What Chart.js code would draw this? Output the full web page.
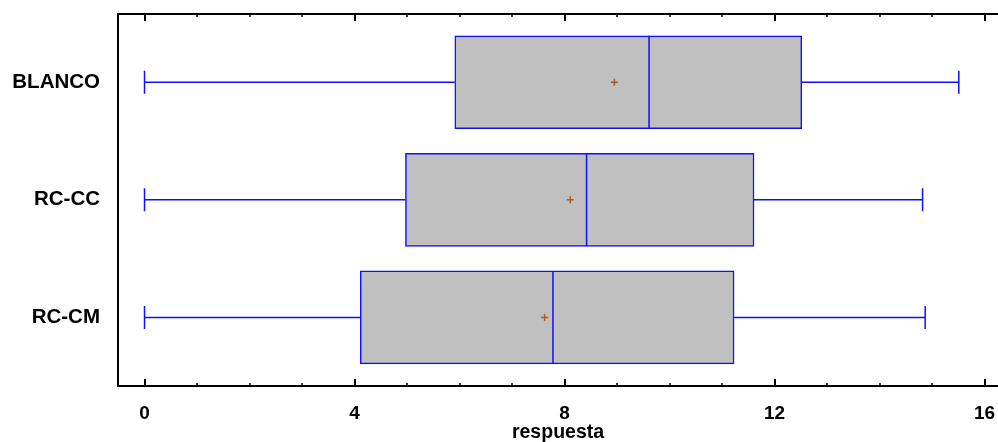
<!DOCTYPE html>
<html>
<head>
<meta charset="utf-8">
<script src="https://cdn.jsdelivr.net/npm/chart.js@4.4.1/dist/chart.umd.min.js"></script>
<style>
  html, body { margin: 0; padding: 0; background: #ffffff; }
  canvas { display: block; }
</style>
</head>
<body>
<canvas id="chart" width="998" height="442"></canvas>
<script>
// Box-and-whisker summary per group
const groups        = ['BLANCO', 'RC-CC', 'RC-CM'];
const minimum       = [0, 0, 0];
const lowerQuartile = [5.91, 4.97, 4.11];
const median        = [9.61, 8.42, 7.78];
const upperQuartile = [12.52, 11.61, 11.23];
const maximum       = [15.51, 14.82, 14.87];
const mean          = [8.95, 8.11, 7.62];

// Axis ticks
const majorTicks = [0, 4, 8, 12, 16];
const minorTicks = [0, 1, 2, 3, 4, 5, 6, 7, 8, 9, 10, 11, 12, 13, 14, 15, 16];
const axisTitle  = 'respuesta';

const FONT = '"Liberation Sans", Arial, Helvetica, sans-serif';
const BLUE = '#1010ff';
const BOX_HALF = 0.395;   // half box height, in category units
const CAP_HALF = 0.098;   // half whisker-cap height, in category units

const positions = groups.map((g, i) => i);
const gap = { x: null, y: null };

// Whisker lines and end caps, separated by gaps
const whiskerData = positions.flatMap(i => [
  { x: minimum[i], y: i }, { x: lowerQuartile[i], y: i }, gap,
  { x: upperQuartile[i], y: i }, { x: maximum[i], y: i }, gap,
  { x: minimum[i], y: i - CAP_HALF }, { x: minimum[i], y: i + CAP_HALF }, gap,
  { x: maximum[i], y: i - CAP_HALF }, { x: maximum[i], y: i + CAP_HALF }, gap
]);

const medianData = positions.flatMap(i => [
  { x: median[i], y: i - BOX_HALF }, { x: median[i], y: i + BOX_HALF }, gap
]);

const boxData  = positions.map(i => ({ x: [lowerQuartile[i], upperQuartile[i]], y: i }));
const meanData = positions.map(i => ({ x: mean[i], y: i }));

// Frame on left, top and bottom with inward tick marks on top and bottom
const framePlugin = {
  id: 'frame',
  afterDraw(chart) {
    const { ctx, chartArea: a, scales: { x } } = chart;
    ctx.save();
    ctx.strokeStyle = '#000';
    ctx.lineWidth = 2;
    ctx.beginPath();
    ctx.moveTo(a.left, a.bottom);
    ctx.lineTo(a.left, a.top);
    ctx.lineTo(a.right, a.top);
    ctx.moveTo(a.left - 1, a.bottom);
    ctx.lineTo(a.right, a.bottom);
    ctx.stroke();
    minorTicks.forEach(v => {
      const px = Math.round(x.getPixelForValue(v));
      const major = majorTicks.includes(v);
      const len = major ? 7 : 3;
      ctx.lineWidth = major ? 2 : 1.5;
      ctx.beginPath();
      ctx.moveTo(px, a.top);
      ctx.lineTo(px, a.top + len);
      ctx.moveTo(px, a.bottom);
      ctx.lineTo(px, a.bottom - len);
      ctx.stroke();
    });
    ctx.restore();
  }
};

new Chart(document.getElementById('chart'), {
  type: 'bar',
  data: {
    datasets: [
      {
        type: 'bar',
        data: boxData,
        backgroundColor: '#c0c0c0',
        borderColor: BLUE,
        borderWidth: 1.5,
        borderSkipped: false,
        barThickness: 93,
        order: 4
      },
      {
        type: 'scatter',
        data: whiskerData,
        showLine: true,
        spanGaps: false,
        borderColor: BLUE,
        borderWidth: 1.5,
        pointRadius: 0,
        fill: false,
        order: 3
      },
      {
        type: 'scatter',
        data: medianData,
        showLine: true,
        spanGaps: false,
        borderColor: BLUE,
        borderWidth: 1.5,
        pointRadius: 0,
        fill: false,
        order: 2
      },
      {
        type: 'scatter',
        data: meanData,
        showLine: false,
        pointStyle: 'cross',
        pointRadius: 3.5,
        borderColor: '#b05a22',
        borderWidth: 1.5,
        order: 1
      }
    ]
  },
  options: {
    indexAxis: 'y',
    responsive: false,
    animation: false,
    devicePixelRatio: 1,
    layout: { autoPadding: false, padding: { top: 14, right: 0, left: 0, bottom: 0 } },
    plugins: {
      legend: { display: false },
      tooltip: { enabled: false }
    },
    scales: {
      x: {
        type: 'linear',
        position: 'bottom',
        min: -0.505,
        max: 16.257,
        offset: false,
        grid: { display: false },
        border: { display: false },
        afterBuildTicks(scale) { scale.ticks = majorTicks.map(v => ({ value: v })); },
        afterFit(scale) {
          scale.height = 56;
          scale.paddingLeft = 0;
          scale.paddingRight = 0;
        },
        ticks: {
          autoSkip: false,
          maxRotation: 0,
          padding: 8,
          color: '#000',
          font: { family: FONT, size: 19, weight: 'bold' },
          callback: v => String(v)
        },
        title: {
          display: true,
          text: axisTitle,
          color: '#000',
          padding: { top: 0, bottom: -2 },
          font: { family: FONT, size: 19.5, weight: 'bold' }
        }
      },
      y: {
        type: 'linear',
        reverse: true,
        min: -0.58,
        max: 2.583,
        offset: false,
        grid: { display: false },
        border: { display: false },
        afterBuildTicks(scale) { scale.ticks = positions.map(v => ({ value: v })); },
        afterFit(scale) {
          scale.width = 118;
          scale.paddingTop = 0;
          scale.paddingBottom = 0;
        },
        ticks: {
          autoSkip: false,
          padding: 10,
          color: '#000',
          font: { family: FONT, size: 20.5, weight: 'bold' },
          callback: v => groups[v] ?? ''
        }
      }
    }
  },
  plugins: [framePlugin]
});
</script>
</body>
</html>
